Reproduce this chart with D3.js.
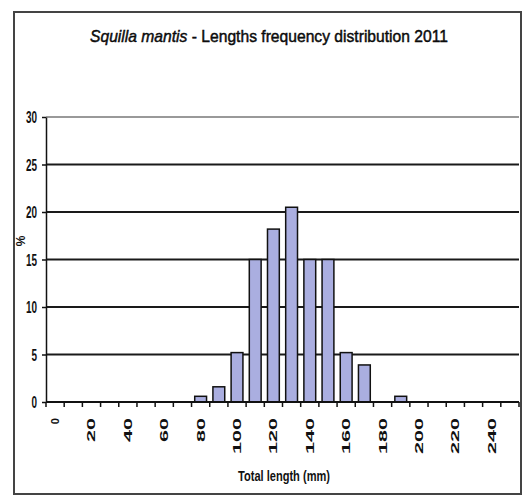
<!DOCTYPE html>
<html><head><meta charset="utf-8">
<script src="https://cdn.jsdelivr.net/npm/d3@7"></script>
<style>
body{margin:0;background:#fff;}
svg{display:block;}
text{font-family:"Liberation Sans",Arial,"DejaVu Sans",sans-serif;fill:#111;}
</style></head>
<body>
<svg id="c" width="526" height="498"></svg>
<script>
const categories = ["0","10","20","30","40","50","60","70","80","90","100","110","120","130","140","150","160","170","180","190","200","210","220","230","240","250"];
const values = [0,0,0,0,0,0,0,0,0.6,1.6,5.2,15,18.2,20.5,15,15,5.2,3.9,0,0.6,0,0,0,0,0,0];
const yTicks = [0,5,10,15,20,25,30];
const xLabels = ["0","20","40","60","80","100","120","140","160","180","200","220","240"];

const svg = d3.select("#c");
const L = 46, R = 519, T = 117, B = 402;

// outer frame
svg.append("rect").attr("x",14).attr("y",12).attr("width",507).attr("height",482)
  .attr("fill","#fff").attr("stroke","#444").attr("stroke-width",2);

const x = d3.scaleBand().domain(categories).range([L,R]).paddingInner(0.35).paddingOuter(0.175);
const y = d3.scaleLinear().domain([0,30]).range([B,T]);

// gridlines
svg.append("g").selectAll("line").data(yTicks.filter(d=>d>0)).join("line")
  .attr("x1",L).attr("x2",R).attr("y1",d=>y(d)).attr("y2",d=>y(d))
  .attr("stroke",d=>d===30?"#999":"#1a1a1a").attr("stroke-width",2.2);

// bars
svg.append("g").selectAll("rect").data(categories.map((c,i)=>({c,v:values[i]})).filter(d=>d.v>0)).join("rect")
  .attr("x",d=>x(d.c)).attr("width",x.bandwidth())
  .attr("y",d=>y(d.v)).attr("height",d=>y(0)-y(d.v))
  .attr("fill","#aaaee0").attr("stroke","#111").attr("stroke-width",1.5);

// y axis
const ya = svg.append("g").attr("transform",`translate(${L},0)`)
  .call(d3.axisLeft(y).tickValues(yTicks).tickSize(4).tickSizeOuter(0).tickPadding(5));
ya.select(".domain").attr("stroke","#111").attr("stroke-width",1.5);
ya.selectAll(".tick line").attr("stroke","#111").attr("stroke-width",1.5);
ya.selectAll(".tick text").attr("font-size",16).attr("font-weight","bold")
  .attr("font-family","'Liberation Sans',Arial,sans-serif")
  .attr("x",0).attr("dy","0.36em")
  .attr("transform","translate(-9,0) scale(0.62,1)");

// x axis line
svg.append("line").attr("x1",L).attr("x2",R).attr("y1",B).attr("y2",B)
  .attr("stroke","#111").attr("stroke-width",2);

// x ticks between categories
const bounds = categories.map(c=>x(c)+x.bandwidth()/2 - x.step()/2).concat([x(categories[categories.length-1])+x.bandwidth()/2 + x.step()/2]);
svg.append("g").selectAll("line").data(bounds).join("line")
  .attr("x1",d=>d).attr("x2",d=>d).attr("y1",B).attr("y2",B+5)
  .attr("stroke","#111").attr("stroke-width",1.5);

// x labels
svg.append("g").selectAll("text").data(xLabels).join("text")
  .attr("transform",d=>`translate(${x(d)+x.bandwidth()/2+4},418) rotate(-90)`)
  .attr("text-anchor","end").attr("font-size",11).attr("font-weight","bold")
  .each(function(d){ if(d.length>1) d3.select(this).attr("textLength",12*d.length).attr("lengthAdjust","spacingAndGlyphs"); })
  .text(d=>d);

// axis titles
svg.append("text").attr("x",284).attr("y",481).attr("text-anchor","middle")
  .attr("font-size",15).attr("font-weight","bold")
  .attr("textLength",92).attr("lengthAdjust","spacingAndGlyphs").text("Total length (mm)");
svg.append("text").attr("transform","translate(25,241) rotate(-90)").attr("text-anchor","middle")
  .attr("font-size",12).attr("font-weight","bold").text("%");

// title
const t = svg.append("text").attr("x",269).attr("y",42).attr("text-anchor","middle")
  .attr("font-size",17).attr("fill","#000").attr("stroke","#000").attr("stroke-width",0.45)
  .attr("textLength",358).attr("lengthAdjust","spacingAndGlyphs");
t.append("tspan").attr("font-style","italic").text("Squilla mantis");
t.append("tspan").text(" - Lengths frequency distribution 2011");
</script>
</body></html>
